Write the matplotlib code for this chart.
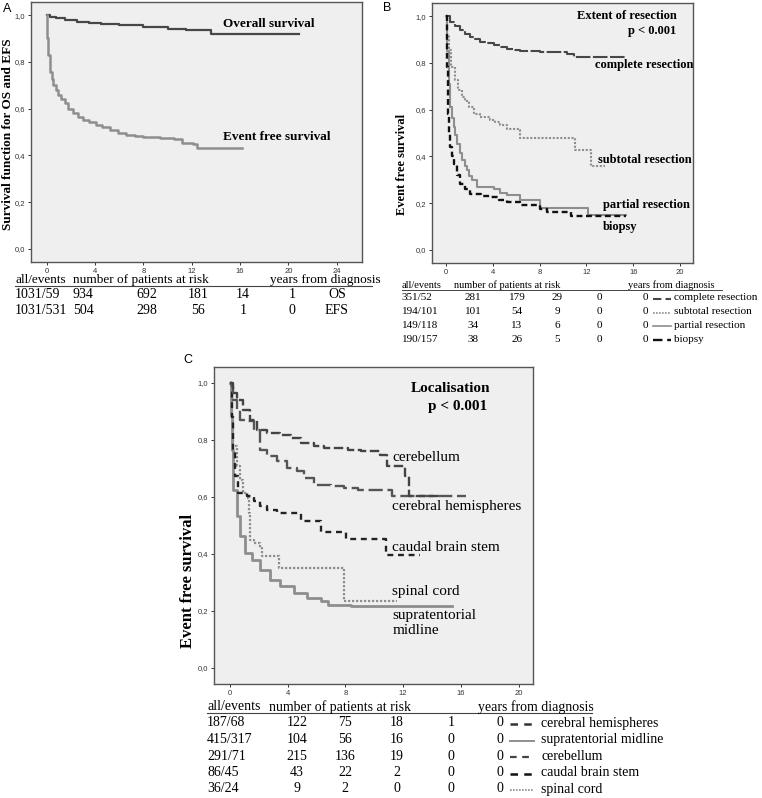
import matplotlib
matplotlib.use("Agg")
import matplotlib.pyplot as plt
from matplotlib.lines import Line2D

W, H = 762, 798

# ---- panel A: OS / EFS ----
os_t = [0, 0.3, 0.8, 1.5, 2.5, 3.5, 4.5, 6, 8, 10, 11.5, 13.6]
os_s = [1.0, 0.993, 0.986, 0.979, 0.972, 0.965, 0.96, 0.957, 0.95, 0.942, 0.935, 0.918]
os_end = 20.9
efs_t = [0, 0.05, 0.13, 0.27, 0.4, 0.55, 0.75, 0.96, 1.2, 1.5, 1.8, 2.2, 2.6, 3.0, 3.5,
         4.1, 4.6, 5.2, 5.9, 6.6, 7.3, 8.0, 9.4, 10.5, 11.2, 12.1, 12.4]
efs_s = [1.0, 0.9, 0.83, 0.758, 0.725, 0.70, 0.68, 0.658, 0.64, 0.624, 0.60, 0.58, 0.566,
         0.553, 0.542, 0.53, 0.52, 0.508, 0.497, 0.487, 0.483, 0.48, 0.473, 0.469, 0.455,
         0.449, 0.43]
efs_end = 16.2

a_rows = [["1031/59", "934", "692", "181", "14", "1", "OS"],
          ["1031/531", "504", "298", "56", "1", "0", "EFS"]]

# ---- panel B: extent of resection ----
comp_t = [0, 0.37, 0.8, 1.22, 1.6, 2.07, 2.5, 2.93, 3.5, 4.06, 4.6, 5.2, 5.8, 6.3, 8.0,
          10.2, 10.3, 10.7, 10.9]
comp_s = [1.0, 0.975, 0.958, 0.94, 0.925, 0.911, 0.9, 0.89, 0.883, 0.876, 0.868, 0.861,
          0.856, 0.851, 0.847, 0.847, 0.84, 0.836, 0.823]
comp_end = 15.4
sub_t = [0, 0.1, 0.23, 0.43, 0.8, 1.0, 1.36, 1.6, 1.93, 2.36, 2.93, 3.78, 4.2, 4.63,
         5.2, 6.2, 6.35, 10.9, 11.0, 12.4]
sub_s = [1.0, 0.92, 0.854, 0.783, 0.726, 0.683, 0.654, 0.635, 0.611, 0.583, 0.569, 0.554,
         0.545, 0.533, 0.519, 0.511, 0.48, 0.48, 0.426, 0.361]
sub_end = 13.6
part_t = [0, 0.1, 0.23, 0.37, 0.5, 0.65, 0.8, 0.94, 1.15, 1.36, 1.6, 1.8, 2.0, 2.2, 2.65,
          4.06, 4.6, 5.2, 6.35, 8.0, 12.1]
part_s = [1.0, 0.85, 0.711, 0.611, 0.565, 0.526, 0.49, 0.454, 0.415, 0.383, 0.36, 0.34,
          0.318, 0.297, 0.269, 0.261, 0.245, 0.233, 0.214, 0.18, 0.15]
part_end = 15.4
biop_t = [0, 0.05, 0.09, 0.17, 0.25, 0.37, 0.5, 0.65, 0.9, 1.22, 1.6, 2.07, 3.0, 3.78,
          4.5, 5.2, 6.35, 8.04, 8.6, 10.7]
biop_s = [1.0, 0.88, 0.783, 0.583, 0.5, 0.44, 0.4, 0.369, 0.32, 0.283, 0.26, 0.24, 0.232,
          0.226, 0.215, 0.204, 0.19, 0.176, 0.161, 0.143]
biop_end = 15.4

b_rows = [["351/52", "281", "179", "29", "0", "0"],
          ["194/101", "101", "54", "9", "0", "0"],
          ["149/118", "34", "13", "6", "0", "0"],
          ["190/157", "38", "26", "5", "0", "0"]]
b_names = ["complete resection", "subtotal resection", "partial resection", "biopsy"]

# ---- panel C: localisation ----
cbl_t = [0, 0.23, 0.47, 0.93, 1.4, 1.87, 2.57, 3.5, 4.2, 4.9, 5.84, 6.54, 8.2, 9.1,
         10.4, 10.9, 12.1, 12.4]
cbl_s = [1.0, 0.965, 0.94, 0.906, 0.871, 0.836, 0.825, 0.819, 0.807, 0.789, 0.778, 0.772,
         0.766, 0.76, 0.749, 0.708, 0.672, 0.605]
cbl_end = 14.5
hem_t = [0, 0.12, 0.23, 0.47, 0.7, 1.17, 1.64, 2.1, 2.57, 3.27, 3.97, 4.67, 5.14, 5.84,
         7.0, 7.94, 8.88, 11.2]
hem_s = [1.0, 0.988, 0.94, 0.906, 0.871, 0.865, 0.836, 0.766, 0.743, 0.725, 0.702, 0.69,
         0.667, 0.643, 0.637, 0.632, 0.626, 0.602]
hem_end = 16.35
cbs_t = [0, 0.12, 0.23, 0.35, 0.58, 1.17, 1.64, 2.1, 2.57, 3.27, 4.9, 6.3, 8.06, 10.8]
cbs_s = [1.0, 0.88, 0.766, 0.672, 0.614, 0.602, 0.585, 0.567, 0.556, 0.544, 0.515, 0.476,
         0.453, 0.398]
cbs_end = 13.2
spc_t = [0, 0.12, 0.23, 0.47, 0.7, 0.93, 1.17, 1.3, 1.4, 1.64, 2.1, 2.2, 3.4, 7.94]
spc_s = [1.0, 0.883, 0.778, 0.708, 0.661, 0.614, 0.596, 0.544, 0.45, 0.439, 0.421, 0.392,
         0.351, 0.234]
spc_end = 11.6
sup_t = [0, 0.05, 0.12, 0.23, 0.47, 0.7, 1.05, 1.52, 2.1, 2.8, 3.5, 4.44, 5.37, 6.3, 6.8,
         8.4]
sup_s = [1.0, 0.883, 0.766, 0.626, 0.532, 0.462, 0.404, 0.38, 0.345, 0.31, 0.287, 0.263,
         0.246, 0.234, 0.222, 0.216]
sup_end = 15.4

c_rows = [["187/68", "122", "75", "18", "1", "0"],
          ["415/317", "104", "56", "16", "0", "0"],
          ["291/71", "215", "136", "19", "0", "0"],
          ["86/45", "43", "22", "2", "0", "0"],
          ["36/24", "9", "2", "0", "0", "0"]]
c_names = ["cerebral hemispheres", "supratentorial midline", "cerebellum",
           "caudal brain stem", "spinal cord"]

SERIF = "Liberation Serif"
SANS = "Liberation Sans"
BG = "#efefef"
DARK = "#474747"
GRAY = "#8e8e8e"

fig = plt.figure(figsize=(W / 100, H / 100), dpi=100)


def make_ax(l, t, r, b, xlim, xticks):
    ax = fig.add_axes([l / W, 1 - b / H, (r - l) / W, (b - t) / H])
    ax.set_facecolor(BG)
    ax.set_xlim(*xlim)
    ax.set_ylim(-0.056, 1.056)
    ax.set_xticks(xticks)
    ax.set_yticks([0, 0.2, 0.4, 0.6, 0.8, 1.0])
    ax.set_yticklabels(["0,0", "0,2", "0,4", "0,6", "0,8", "1,0"])
    for lab in ax.get_xticklabels() + ax.get_yticklabels():
        lab.set_fontfamily(SANS)
        lab.set_fontsize(5.5)
    ax.tick_params(length=2.5, width=0.7, pad=1.5, colors="#333333")
    for sp in ax.spines.values():
        sp.set_color("#555555")
        sp.set_linewidth(1.0)
    return ax


def km(ax, t, s, t_end, **kw):
    ax.step(list(t) + [t_end], list(s) + [s[-1]], where="post", **kw)


def ftext(x, y, s, **kw):
    kw.setdefault("fontfamily", SERIF)
    kw.setdefault("va", "center")
    fig.text(x / W, 1 - y / H, s, **kw)


def fline(x0, x1, y, **kw):
    fig.add_artist(Line2D([x0 / W, x1 / W], [1 - y / H, 1 - y / H],
                          transform=fig.transFigure, **kw))


# ---------- A ----------
axA = make_ax(31, 2, 362, 262, (-1.3, 26.1), [0, 4, 8, 12, 16, 20, 24])
km(axA, os_t, os_s, os_end, color=DARK, lw=1.6)
km(axA, efs_t, efs_s, efs_end, color=GRAY, lw=1.8)
axA.text(14.6, 0.96, "Overall survival", fontfamily=SERIF, fontweight="bold",
         fontsize=9.5, va="center")
axA.text(14.6, 0.479, "Event free survival", fontfamily=SERIF, fontweight="bold",
         fontsize=9.5, va="center")
ftext(8, 134, "Survival function for OS and EFS", fontweight="bold",
      fontsize=9.5, rotation=90, ha="center")
ftext(3, 9, "A", fontfamily=SANS, fontsize=9)

ftext(15, 280, "all/events", fontsize=9.5)
ftext(73, 280, "number of patients at risk", fontsize=9.5)
ftext(270, 280, "years from diagnosis", fontsize=9.5)
fline(15, 372, 286, color="#444444", lw=0.8)
a_cols = [83, 147, 198, 243, 292, 337]
for i, row in enumerate(a_rows):
    y = 295 + 15 * i
    ftext(15, y, row[0], fontsize=10)
    for x, v in zip(a_cols, row[1:]):
        ftext(x, y, v, fontsize=10, ha="center")

# ---------- B ----------
axB = make_ax(432, 3, 693, 263, (-1.2, 21.1), [0, 4, 8, 12, 16, 20])
km(axB, comp_t, comp_s, comp_end, color=DARK, lw=1.5, dashes=(7, 1.2))
km(axB, sub_t, sub_s, sub_end, color=GRAY, lw=1.5, dashes=(1, 0.8))
km(axB, part_t, part_s, part_end, color=GRAY, lw=1.5)
km(axB, biop_t, biop_s, biop_end, color="#111111", lw=1.7, dashes=(2.5, 1.5))
axB.text(11.2, 1.0, "Extent of resection", fontfamily=SERIF, fontweight="bold",
         fontsize=9, va="center")
axB.text(19.7, 0.935, "p < 0.001", fontfamily=SERIF, fontweight="bold",
         fontsize=9, va="center", ha="right")
axB.text(12.7, 0.789, "complete resection", fontfamily=SERIF, fontweight="bold",
         fontsize=9, va="center")
axB.text(13.0, 0.383, "subtotal resection", fontfamily=SERIF, fontweight="bold",
         fontsize=9, va="center")
axB.text(13.4, 0.194, "partial resection", fontfamily=SERIF, fontweight="bold",
         fontsize=9, va="center")
axB.text(13.4, 0.10, "biopsy", fontfamily=SERIF, fontweight="bold",
         fontsize=9, va="center")
ftext(402, 164, "Event free survival", fontweight="bold", fontsize=9,
      rotation=90, ha="center")
ftext(383, 8, "B", fontfamily=SANS, fontsize=9)

ftext(402, 285, "all/events", fontsize=7.5)
ftext(454, 285, "number of patients at risk", fontsize=7.5)
ftext(628, 285, "years from diagnosis", fontsize=7.5)
fline(402, 722, 290, color="#444444", lw=0.7)
b_cols = [473, 517, 557, 599, 645]
b_styles = [dict(color=DARK, lw=1.5, dashes=(4, 2)),
            dict(color=GRAY, lw=1.2, dashes=(1, 0.8)),
            dict(color=GRAY, lw=1.2),
            dict(color="#111111", lw=1.7, dashes=(4, 2))]
for i, row in enumerate(b_rows):
    y = 298 + 13.7 * i
    ftext(402, y, row[0], fontsize=8)
    for x, v in zip(b_cols, row[1:]):
        ftext(x, y, v, fontsize=8, ha="center")
    fline(653, 671, y + 1, **b_styles[i])
    ftext(674, y, b_names[i], fontsize=8)

# ---------- C ----------
axC = make_ax(214, 367, 533, 684, (-1.1, 21.0), [0, 4, 8, 12, 16, 20])
km(axC, sup_t, sup_s, sup_end, color=GRAY, lw=2.0)
km(axC, spc_t, spc_s, spc_end, color=GRAY, lw=1.6, dashes=(1, 0.8))
km(axC, cbs_t, cbs_s, cbs_end, color="#222222", lw=1.7, dashes=(2.5, 2))
km(axC, hem_t, hem_s, hem_end, color="#555555", lw=1.7, dashes=(6, 2))
km(axC, cbl_t, cbl_s, cbl_end, color="#444444", lw=1.7, dashes=(4, 1.5))
axC.text(12.5, 0.979, "Localisation", fontfamily=SERIF, fontweight="bold",
         fontsize=11, va="center")
axC.text(17.8, 0.916, "p < 0.001", fontfamily=SERIF, fontweight="bold",
         fontsize=11, va="center", ha="right")
axC.text(11.25, 0.737, "cerebellum", fontfamily=SERIF, fontsize=11, va="center")
axC.text(11.25, 0.565, "cerebral hemispheres", fontfamily=SERIF, fontsize=11,
         va="center")
axC.text(11.25, 0.424, "caudal brain stem", fontfamily=SERIF, fontsize=11,
         va="center")
axC.text(11.25, 0.267, "spinal cord", fontfamily=SERIF, fontsize=11, va="center")
axC.text(11.25, 0.158, "supratentorial\nmidline", fontfamily=SERIF, fontsize=11,
         va="center", linespacing=1.2)
ftext(188, 581, "Event free survival", fontweight="bold", fontsize=12,
      rotation=90, ha="center")
ftext(183, 360, "C", fontfamily=SANS, fontsize=9)

ftext(207, 707, "all/events", fontsize=10)
ftext(269, 707, "number of patients at risk", fontsize=10)
ftext(478, 707, "years from diagnosis", fontsize=10)
fline(207, 592, 713, color="#444444", lw=0.8)
c_cols = [297, 345, 397, 451, 500]
c_styles = [dict(color="#333333", lw=1.8, dashes=(3, 2.5)),
            dict(color=GRAY, lw=1.4),
            dict(color="#444444", lw=1.6, dashes=(3, 2.5)),
            dict(color="#111111", lw=1.8, dashes=(3, 2.5)),
            dict(color=GRAY, lw=1.2, dashes=(1, 0.8))]
for i, row in enumerate(c_rows):
    y = 723 + 16.5 * i
    ftext(207, y, row[0], fontsize=10)
    for x, v in zip(c_cols, row[1:]):
        ftext(x, y, v, fontsize=10, ha="center")
    fline(510, 534, y + 1, **c_styles[i])
    ftext(541, y, c_names[i], fontsize=10)

fig.savefig("out.png", dpi=100)
